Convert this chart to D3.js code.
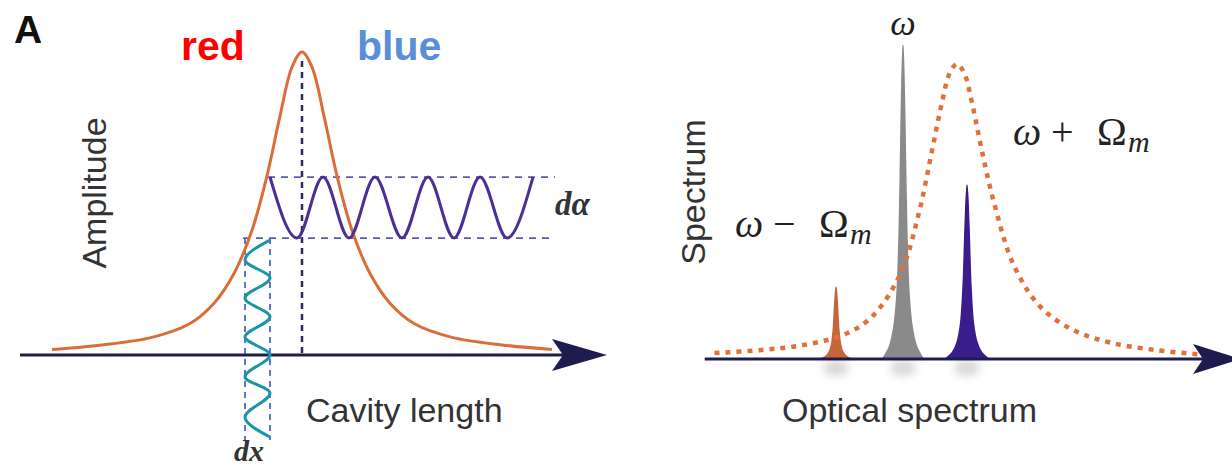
<!DOCTYPE html>
<html lang="en">
<head>
<meta charset="UTF-8">
<title>Cavity optomechanics sketch</title>
<script src="https://d3js.org/d3.v7.min.js"></script>
<style>
  body { margin: 0; background: #fff; }
  text { font-family: "Liberation Sans", Arial, sans-serif; }
  .math { font-family: "Liberation Serif", "Times New Roman", serif; }
</style>
</head>
<body>
<div id="chart"></div>
<script>
// ---- data ----
// left panel: cavity resonance (cavity length units, amplitude 0..1)
const cavityX   = [-1.0, -0.8, -0.6, -0.45, -0.35, -0.27, -0.2, -0.14, -0.09, -0.04, 0, 0.04, 0.09, 0.14, 0.2, 0.27, 0.35, 0.45, 0.6, 0.8, 1.0];
const cavityAmp = [0.015, 0.03, 0.055, 0.1, 0.17, 0.27, 0.41, 0.59, 0.78, 0.95, 1, 0.95, 0.78, 0.59, 0.41, 0.27, 0.17, 0.1, 0.055, 0.03, 0.015];

// purple amplitude modulation (extrema of the wave)
const probeX   = [-0.128, -0.02, 0.084, 0.188, 0.292, 0.4, 0.504, 0.608, 0.712, 0.82, 0.924];
const probeAmp = [0.586, 0.384, 0.586, 0.384, 0.586, 0.384, 0.586, 0.384, 0.586, 0.384, 0.586];

// teal cavity length modulation (extrema, amplitude axis runs below zero)
const dispX   = [-0.128, -0.228, -0.128, -0.228, -0.128, -0.228, -0.128, -0.228, -0.128, -0.228, -0.128];
const dispAmp = [0.377, 0.311, 0.252, 0.185, 0.123, 0.056, -0.003, -0.076, -0.129, -0.209, -0.275];

// right panel: cavity lineshape (frequency in units of Omega_m from omega)
const specX   = [-2.9, -2.2, -1.6, -1.0, -0.6, -0.3, 0, 0.25, 0.45, 0.6, 0.72, 0.83, 0.94, 1.06, 1.21, 1.4, 1.7, 2.1, 2.6, 3.2, 3.9, 4.6];
const specAmp = [0.02, 0.03, 0.045, 0.075, 0.12, 0.19, 0.31, 0.5, 0.71, 0.87, 0.97, 1, 0.97, 0.87, 0.71, 0.53, 0.32, 0.18, 0.1, 0.055, 0.03, 0.015];

// narrow spectral lines: lower sideband, carrier, upper sideband
const lineNames   = ["lower", "carrier", "upper"];
const lineCenters = [-1.03, 0, 0.985];
const lineHeights = [0.244, 1.064, 0.59];
const lineWidths  = [0.7, 0.95, 1];
const lineColors  = ["#c6653c", "#8a8a8a", "#3a1c8a"];
// shape of one line (offset, relative height)
const lineOffsets = [-0.33, -0.22, -0.15, -0.1, -0.06, -0.03, 0, 0.03, 0.06, 0.1, 0.15, 0.22, 0.33];
const lineShape   = [0, 0.04, 0.1, 0.2, 0.42, 0.76, 1, 0.76, 0.42, 0.2, 0.1, 0.04, 0];

const W = 1232, H = 469;
const svg = d3.select("#chart").append("svg")
  .attr("width", W).attr("height", H)
  .attr("viewBox", `0 0 ${W} ${H}`);

svg.append("rect").attr("width", W).attr("height", H).attr("fill", "#fff");

const defs = svg.append("defs");
defs.append("filter").attr("id", "blur").attr("x", "-50%").attr("y", "-50%").attr("width", "200%").attr("height", "200%")
  .append("feGaussianBlur").attr("stdDeviation", 4);

const axisColor = "#1e1c4e";

function arrowAxis(g, x0, x1, y, len, half, notch) {
  g.append("line")
    .attr("x1", x0).attr("x2", x1 - len + notch).attr("y1", y).attr("y2", y)
    .attr("stroke", axisColor).attr("stroke-width", 3);
  g.append("path")
    .attr("d", `M${x1},${y} L${x1 - len},${y - half} L${x1 - len + notch},${y} L${x1 - len},${y + half} Z`)
    .attr("fill", axisColor);
}

// ================= left panel =================
const xL = d3.scaleLinear().domain([-1, 1]).range([52, 552]);
const yL = d3.scaleLinear().domain([0, 1]).range([354, 52]);
const left = svg.append("g");

// dashed guides
left.append("line")
  .attr("x1", xL(0)).attr("x2", xL(0)).attr("y1", yL(0.97)).attr("y2", yL(0))
  .attr("stroke", "#2a2a60").attr("stroke-width", 2.5).attr("stroke-dasharray", "6,5");
left.append("line")
  .attr("x1", xL(-0.136)).attr("x2", xL(1.012)).attr("y1", yL(0.586)).attr("y2", yL(0.586))
  .attr("stroke", "#5b5bb0").attr("stroke-width", 1.8).attr("stroke-dasharray", "7,6");
left.append("line")
  .attr("x1", xL(-0.236)).attr("x2", xL(1.012)).attr("y1", yL(0.384)).attr("y2", yL(0.384))
  .attr("stroke", "#5b5bb0").attr("stroke-width", 1.8).attr("stroke-dasharray", "7,6");
[-0.228, -0.128].forEach(v => {
  left.append("line")
    .attr("x1", xL(v)).attr("x2", xL(v)).attr("y1", yL(0.384)).attr("y2", yL(-0.285))
    .attr("stroke", "#4d68c4").attr("stroke-width", 1.8).attr("stroke-dasharray", "6,5");
});

arrowAxis(left, xL(-1.128), xL(1.22), yL(0) + 1, 55, 16, 11);

const cavityLine = d3.line().x(d => xL(d[0])).y(d => yL(d[1])).curve(d3.curveCatmullRom);
left.append("path")
  .attr("d", cavityLine(d3.zip(cavityX, cavityAmp)))
  .attr("fill", "none").attr("stroke", "#db6d3a").attr("stroke-width", 3);

const probeLine = d3.line().x(d => xL(d[0])).y(d => yL(d[1])).curve(d3.curveMonotoneX);
left.append("path")
  .attr("d", probeLine(d3.zip(probeX, probeAmp)))
  .attr("fill", "none").attr("stroke", "#4b2f95").attr("stroke-width", 3);

const dispLine = d3.line().x(d => xL(d[0])).y(d => yL(d[1])).curve(d3.curveMonotoneY);
left.append("path")
  .attr("d", dispLine(d3.zip(dispX, dispAmp)))
  .attr("fill", "none").attr("stroke", "#1c95a8").attr("stroke-width", 3);

// labels
svg.append("text").attr("x", 14).attr("y", 43)
  .attr("font-size", 39).attr("font-weight", "bold").attr("fill", "#111").text("A");
svg.append("text").attr("x", 181).attr("y", 60)
  .attr("font-size", 41).attr("font-weight", "bold").attr("fill", "#ff0000").text("red");
svg.append("text").attr("x", 357).attr("y", 60)
  .attr("font-size", 41).attr("font-weight", "bold").attr("fill", "#5a8fd8").text("blue");
svg.append("text").attr("transform", "translate(106,193) rotate(-90)")
  .attr("text-anchor", "middle").attr("font-size", 34).attr("fill", "#333").text("Amplitude");
svg.append("text").attr("x", 306).attr("y", 422)
  .attr("font-size", 34).attr("fill", "#333").text("Cavity length");
svg.append("text").attr("class", "math").attr("x", 234).attr("y", 461)
  .attr("font-size", 30).attr("font-style", "italic").attr("font-weight", "bold").attr("fill", "#333").text("dx");
svg.append("text").attr("class", "math").attr("x", 555).attr("y", 215)
  .attr("font-size", 33).attr("font-style", "italic").attr("font-weight", "bold").attr("fill", "#333").text("dα");

// ================= right panel =================
const xR = d3.scaleLinear().domain([0, 1]).range([903, 968]);
const yR = d3.scaleLinear().domain([0, 1]).range([359, 64]);
const right = svg.append("g");

// soft shadows under the lines
right.selectAll("ellipse.shadow")
  .data(lineCenters)
  .join("ellipse")
  .attr("class", "shadow")
  .attr("cx", d => xR(d)).attr("cy", yR(0) + 9)
  .attr("rx", 13).attr("ry", 8)
  .attr("fill", "#a8a8a8").attr("opacity", 0.45)
  .attr("filter", "url(#blur)");

const peakArea = d3.area()
  .x(d => d[0]).y0(yR(0)).y1(d => d[1])
  .curve(d3.curveCatmullRom);

right.selectAll("path.line")
  .data(lineNames.map((n, i) => ({ c: lineCenters[i], h: lineHeights[i], w: lineWidths[i], col: lineColors[i] })))
  .join("path")
  .attr("class", "line")
  .attr("d", d => peakArea(lineOffsets.map((o, j) => [xR(d.c + o * d.w), yR(d.h * lineShape[j])])))
  .attr("fill", d => d.col)
  .attr("stroke", d => d.col).attr("stroke-width", 1.5);

arrowAxis(right, xR(-3.05), xR(5.2), yR(0), 48, 15, 10);

const specLine = d3.line().x(d => xR(d[0])).y(d => yR(d[1])).curve(d3.curveCatmullRom);
right.append("path")
  .attr("d", specLine(d3.zip(specX, specAmp)))
  .attr("fill", "none").attr("stroke", "#e0703c").attr("stroke-width", 4.5)
  .attr("stroke-dasharray", "5,6");

// labels
svg.append("text").attr("transform", "translate(705,192) rotate(-90)")
  .attr("text-anchor", "middle").attr("font-size", 34).attr("fill", "#333").text("Spectrum");
svg.append("text").attr("x", 782).attr("y", 422)
  .attr("font-size", 34).attr("fill", "#333").text("Optical spectrum");

svg.append("text").attr("class", "math").attr("x", xR(0)).attr("y", 35)
  .attr("text-anchor", "middle").attr("font-size", 36).attr("font-style", "italic").attr("fill", "#222").text("ω");

function sideLabel(x, y, sign) {
  const t = svg.append("text").attr("class", "math").attr("y", y).attr("font-size", 40).attr("fill", "#222");
  t.append("tspan").attr("x", x).attr("font-style", "italic").text("ω");
  t.append("tspan").attr("x", x + 38).text(sign);
  t.append("tspan").attr("x", x + 84).text("Ω");
  t.append("tspan").attr("x", x + 115).attr("dy", 7).attr("font-size", 30).attr("font-style", "italic").text("m");
}
sideLabel(1013, 145, "+");
sideLabel(735, 237, "−");
</script>
</body>
</html>
